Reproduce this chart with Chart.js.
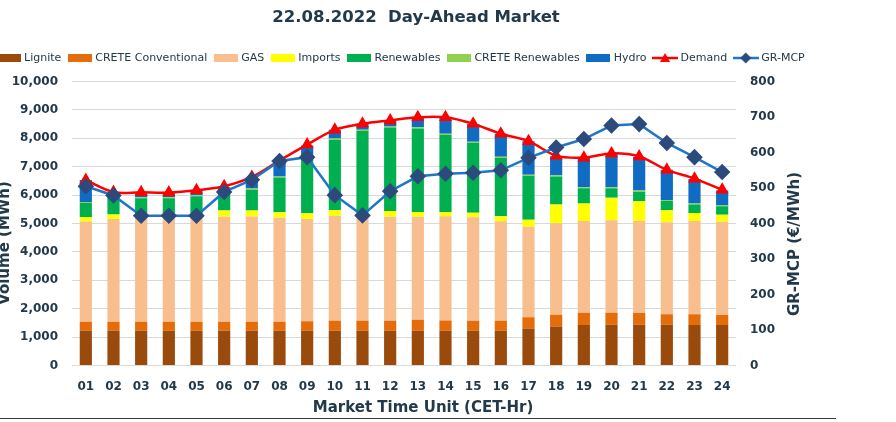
<!DOCTYPE html>
<html>
<head>
<meta charset="utf-8">
<script src="https://cdn.jsdelivr.net/npm/chart.js@4/dist/chart.umd.min.js"></script>
<style>
  html, body { margin: 0; padding: 0; background: #ffffff; overflow: hidden; }
  #wrap { position: absolute; left: -10px; top: 0; width: 860px; height: 422px; }
  #frame { position: absolute; left: 0; top: 418px; width: 836px; height: 0; border-top: 1px solid #3a3a3a; }
</style>
</head>
<body>
<div id="wrap"><canvas id="c" width="860" height="422"></canvas></div>
<div id="frame"></div>
<script>
// ---- data ----
const hours = ['01','02','03','04','05','06','07','08','09','10','11','12','13','14','15','16','17','18','19','20','21','22','23','24'];
const lignite         = [1230,1230,1230,1230,1230,1230,1230,1230,1230,1230,1230,1230,1230,1230,1230,1230,1310,1380,1430,1440,1440,1440,1430,1430];
const creteConv       = [ 315, 315, 315, 315, 315, 315, 315, 315, 330, 350, 350, 350, 380, 360, 350, 350, 390, 410, 430, 420, 410, 370, 380, 350];
const gas             = [3525,3615,3705,3705,3705,3695,3705,3655,3600,3690,3690,3660,3630,3670,3640,3500,3190,3220,3230,3260,3240,3240,3280,3280];
const imports         = [ 160, 160,  70,  70,  70, 220, 210, 200, 200, 200, 110, 200, 170, 150, 160, 180, 240, 660, 620, 790, 700, 420, 280, 250];
const renewables      = [ 490, 610, 570, 570, 640, 620, 730,1220,1970,2480,2880,2940,2940,2710,2460,2050,1550, 990, 530, 330, 330, 320, 300, 300];
const creteRenewables = [  40,  40,  40,  40,  40,  40,  40,  40,  40,  40,  40,  40,  40,  40,  40,  40,  40,  40,  40,  40,  40,  40,  40,  40];
const hydro           = [ 770, 130, 150, 150, 160, 160, 360, 580, 380, 310, 210, 210, 330, 580, 620, 810,1180, 670,1030,1170,1180,1060, 860, 510];
const demand          = [6530,6110,6100,6090,6170,6310,6640,7220,7780,8300,8510,8630,8740,8740,8510,8160,7900,7390,7320,7470,7360,6890,6580,6190];
const grMcp           = [ 505, 479, 422, 422, 422, 489, 523, 576, 587, 480, 423, 491, 533, 540, 543, 550, 585, 614, 638, 676, 680, 627, 587, 545];
const volumeRange = [0, 10000, 1000];
const priceRange  = [0, 800, 100];

const TXT = '#22394A';
const FONT = 'DejaVu Sans';

const colors = {
  lignite: '#9A4A0A', creteConv: '#E46C0A', gas: '#F8BE8E', imports: '#FFFF00',
  renewables: '#00B050', creteRenewables: '#92D050', hydro: '#0F6CC2',
  demand: '#FF0000', mcpLine: '#1F76C6', mcpPoint: '#2C4A7C'
};

function boxImg(color) {
  const c = document.createElement('canvas'); c.width = 24; c.height = 8;
  const x = c.getContext('2d'); x.fillStyle = color; x.fillRect(0, 0, 24, 8); return c;
}
function lineImg(lineColor, ptColor, kind) {
  const c = document.createElement('canvas'); c.width = 26; c.height = 12;
  const x = c.getContext('2d');
  x.strokeStyle = lineColor; x.lineWidth = 2.5;
  x.beginPath(); x.moveTo(0, 6); x.lineTo(26, 6); x.stroke();
  x.fillStyle = ptColor; x.beginPath();
  if (kind === 'tri') { x.moveTo(13, 1); x.lineTo(18, 10); x.lineTo(8, 10); }
  else { x.moveTo(13, 0.5); x.lineTo(18.5, 6); x.lineTo(13, 11.5); x.lineTo(7.5, 6); }
  x.closePath(); x.fill(); return c;
}

function barDs(label, data, color) {
  return { type: 'bar', label, data, backgroundColor: color, borderWidth: 0, stack: 's', yAxisID: 'y', order: 2,
           barPercentage: 0.44, categoryPercentage: 1.0, legendImg: boxImg(color) };
}

const datasets = [
  barDs('Lignite', lignite, colors.lignite),
  barDs('CRETE Conventional', creteConv, colors.creteConv),
  barDs('GAS', gas, colors.gas),
  barDs('Imports', imports, colors.imports),
  barDs('Renewables', renewables, colors.renewables),
  barDs('CRETE Renewables', creteRenewables, colors.creteRenewables),
  barDs('Hydro', hydro, colors.hydro),
  { type: 'line', label: 'Demand', data: demand, yAxisID: 'y', order: 1,
    borderColor: colors.demand, backgroundColor: colors.demand, borderWidth: 2.5, tension: 0.35,
    pointStyle: 'triangle', pointRadius: 5, pointBackgroundColor: colors.demand, pointBorderColor: colors.demand,
    legendImg: lineImg(colors.demand, colors.demand, 'tri') },
  { type: 'line', label: 'GR-MCP', data: grMcp, yAxisID: 'y1', order: 0,
    borderColor: colors.mcpLine, backgroundColor: colors.mcpPoint, borderWidth: 2.5, tension: 0,
    pointStyle: 'rectRot', pointRadius: 6.5, pointBackgroundColor: colors.mcpPoint, pointBorderColor: colors.mcpPoint,
    legendImg: lineImg(colors.mcpLine, colors.mcpPoint, 'dia') }
];

const titlesPlugin = {
  id: 'titles',
  beforeLayout(chart) {
    const lg = chart.legend;
    if (lg && !lg._fitWrapped) {
      const orig = lg.fit;
      lg.fit = function () { orig.call(this); this.height += 8; };
      lg._fitWrapped = true;
    }
  },
  afterDraw(chart) {
    const ctx = chart.ctx;
    ctx.save();
    ctx.fillStyle = TXT;
    ctx.textAlign = 'center'; ctx.textBaseline = 'middle';
    ctx.font = 'bold 16.5px "' + FONT + '"';
    ctx.fillText('22.08.2022  Day-Ahead Market', 426, 18);
    ctx.font = 'bold 15px "' + FONT + '"';
    ctx.fillText('Market Time Unit (CET-Hr)', 433, 408);
    ctx.save(); ctx.translate(15, 243); ctx.rotate(-Math.PI / 2);
    ctx.fillText('Volume (MWh)', 0, 0); ctx.restore();
    ctx.save(); ctx.translate(805, 244); ctx.rotate(-Math.PI / 2);
    ctx.fillText('GR-MCP (€/MWh)', 0, 0); ctx.restore();
    ctx.restore();
  }
};

new Chart(document.getElementById('c'), {
  data: { labels: hours, datasets },
  plugins: [titlesPlugin],
  options: {
    responsive: false, animation: false, devicePixelRatio: 1,
    layout: { padding: { top: 44, left: 0, right: 0, bottom: 22 } },
    plugins: {
      tooltip: { enabled: false },
      title: { display: false },
      legend: {
        position: 'top', align: 'start',
        labels: {
          usePointStyle: true, pointStyleWidth: 20, boxHeight: 8, padding: 8.5,
          color: TXT, font: { family: FONT, size: 11 },
          generateLabels(chart) {
            const items = Chart.defaults.plugins.legend.labels.generateLabels(chart);
            items.sort((a, b) => a.datasetIndex - b.datasetIndex);
            items.forEach(it => { it.pointStyle = chart.data.datasets[it.datasetIndex].legendImg; });
            return items;
          }
        }
      }
    },
    scales: {
      x: {
        stacked: true, grid: { display: false }, border: { display: false },
        ticks: { color: TXT, font: { family: FONT, size: 12, weight: 'bold' }, padding: 6, maxRotation: 0 }
      },
      y: {
        position: 'left', stacked: true, min: volumeRange[0], max: volumeRange[1],
        ticks: { stepSize: volumeRange[2], color: TXT, font: { family: FONT, size: 12, weight: 'bold' }, padding: 14,
                 callback: v => v.toLocaleString('en-US') },
        grid: { color: '#D9D9D9', lineWidth: 1, drawTicks: false }, border: { display: false },
        afterFit(s) { s.width = 82; }
      },
      y1: {
        position: 'right', min: priceRange[0], max: priceRange[1],
        ticks: { stepSize: priceRange[2], color: TXT, font: { family: FONT, size: 12, weight: 'bold' }, padding: 14 },
        grid: { display: false, drawTicks: false }, border: { display: false },
        afterFit(s) { s.width = 114; }
      }
    }
  }
});
</script>
</body>
</html>
